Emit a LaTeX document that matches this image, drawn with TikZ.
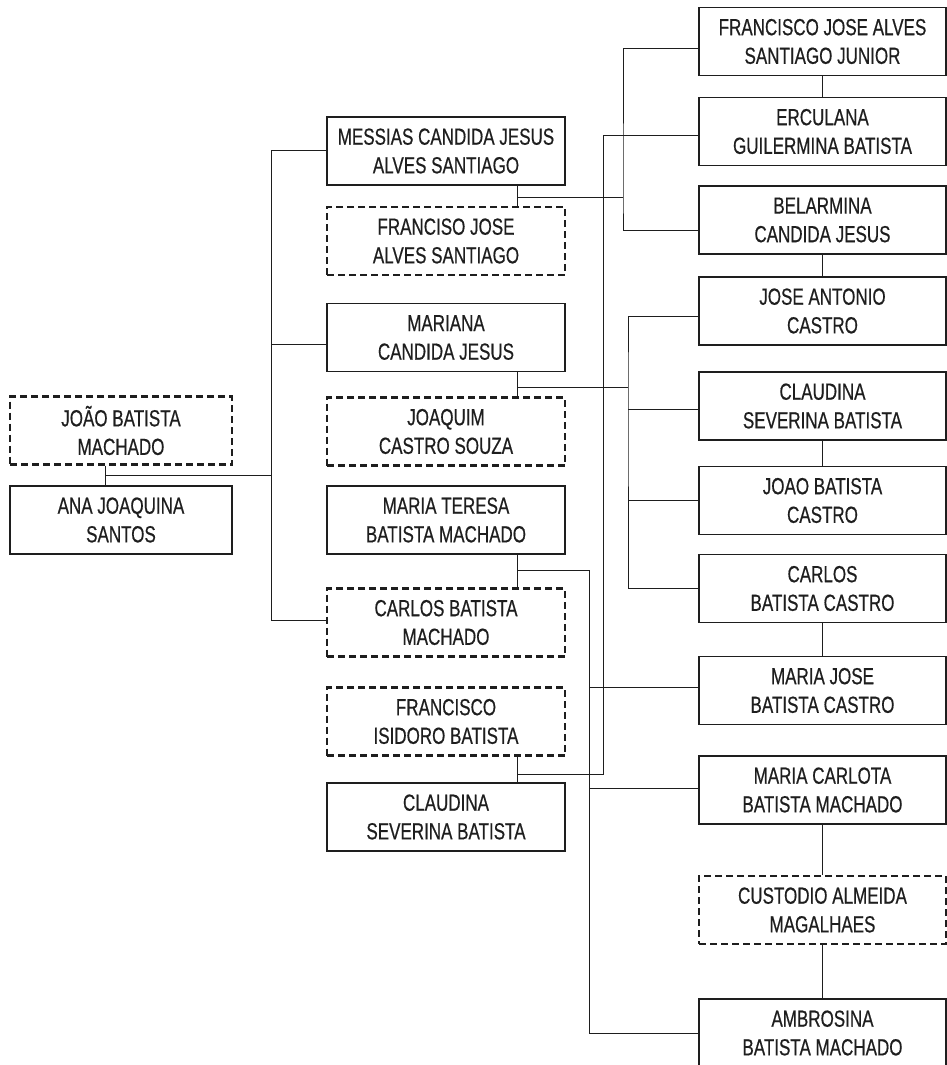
\documentclass[tikz,border=0pt]{standalone}
\usepackage{fontspec}
\setmainfont{Liberation Sans}[FakeStretch=0.73,FakeBold=0.5]
\usetikzlibrary{calc}
\definecolor{ink}{HTML}{1E1E1E}
\begin{document}
\begin{tikzpicture}[x=1pt,y=-1pt,
  person/.style={draw=ink,line width=1.3pt,align=center,inner sep=0pt,
    minimum height=68pt,text=ink,font=\fontsize{23.3}{28.6}\selectfont},
  spouse/.style={person,line width=2.2pt,dash pattern=on 7pt off 4pt},
  lw/.style={minimum width=222pt},
  mw/.style={minimum width=238pt},
  rw/.style={minimum width=247pt},
  link/.style={draw=ink,line width=1pt}]
\clip (0,0) rectangle (947,1065);
% left column
\node[spouse,lw] (joao) at (121,430.5) {JOÃO BATISTA\\MACHADO};
\node[person,lw] (ana) at (121,520) {ANA JOAQUINA\\SANTOS};
% middle column
\node[person,mw] (messias) at (446,151) {MESSIAS CANDIDA JESUS\\ALVES SANTIAGO};
\node[spouse,mw] (franj) at (446,241) {FRANCISO JOSE\\ALVES SANTIAGO};
\node[person,mw] (mariana) at (446,337.5) {MARIANA\\CANDIDA JESUS};
\node[spouse,mw] (joaquim) at (446,431.5) {JOAQUIM\\CASTRO SOUZA};
\node[person,mw] (mteresa) at (446,520) {MARIA TERESA\\BATISTA MACHADO};
\node[spouse,mw] (carlosbm) at (446,622.5) {CARLOS BATISTA\\MACHADO};
\node[spouse,mw] (fisidoro) at (446,721.5) {FRANCISCO\\ISIDORO BATISTA};
\node[person,mw] (claudm) at (446,817) {CLAUDINA\\SEVERINA BATISTA};
% right column
\node[person,rw] (fjr) at (822.5,41.5) {FRANCISCO JOSE ALVES\\SANTIAGO JUNIOR};
\node[person,rw] (erc) at (822.5,131.5) {ERCULANA\\GUILERMINA BATISTA};
\node[person,rw] (bel) at (822.5,220) {BELARMINA\\CANDIDA JESUS};
\node[person,rw] (jac) at (822.5,311) {JOSE ANTONIO\\CASTRO};
\node[person,rw] (csb) at (822.5,406) {CLAUDINA\\SEVERINA BATISTA};
\node[person,rw] (jbc) at (822.5,500.5) {JOAO BATISTA\\CASTRO};
\node[person,rw] (cbc) at (822.5,588.5) {CARLOS\\BATISTA CASTRO};
\node[person,rw] (mjbc) at (822.5,690.5) {MARIA JOSE\\BATISTA CASTRO};
\node[person,rw] (mcbm) at (822.5,790) {MARIA CARLOTA\\BATISTA MACHADO};
\node[spouse,rw] (cam) at (822.5,910) {CUSTODIO ALMEIDA\\MAGALHAES};
\node[person,rw] (amb) at (822.5,1033) {AMBROSINA\\BATISTA MACHADO};
% junction coordinates
\coordinate (u1) at (105,475);
\coordinate (sp) at (271,475);
\coordinate (m1) at (517,197);
\coordinate (b1) at (623,197);
\coordinate (m2) at (517,774);
\coordinate (b2) at (603,774);
\coordinate (m3) at (517,387);
\coordinate (b3) at (628,387);
\coordinate (m4) at (517,570);
\coordinate (b4) at (589,570);
% anchor points on box sides
\coordinate (messw) at ($(messias.west)+(0,-1)$);
\coordinate (marw) at ($(mariana.west)+(0,6.5)$);
\coordinate (carw) at ($(carlosbm.west)+(0,-2.5)$);
\coordinate (fjrw) at ($(fjr.west)+(0,7.5)$);
\coordinate (belw) at ($(bel.west)+(0,10)$);
\coordinate (ercw) at ($(erc.west)+(0,3.5)$);
\coordinate (jacw) at ($(jac.west)+(0,5)$);
\coordinate (csbw) at ($(csb.west)+(0,3)$);
\coordinate (jbcw) at (jbc.west);
\coordinate (cbcw) at (cbc.west);
\coordinate (mjw) at ($(mjbc.west)+(0,-3.5)$);
\coordinate (mcw) at ($(mcbm.west)+(0,-2)$);
\coordinate (ambw) at (amb.west);
% generation 1
\draw[link] (u1 |- joao.south) -- (u1 |- ana.north);
\draw[link] (u1) -- (sp);
\draw[link] (messw) -| (sp |- messw) -- (sp |- carw) -- (carw);
\draw[link] (marw) -- (sp |- marw);
% Messias couple
\draw[link] (m1 |- messias.south) -- (m1 |- franj.north);
\draw[link] (m1) -- (b1);
\draw[link] (fjrw) -| (b1) |- (belw);
\draw[link] (fjr.south) -- (erc.north);
\draw[link] (bel.south) -- (jac.north);
% Isidoro couple
\draw[link] (m2 |- fisidoro.south) -- (m2 |- claudm.north);
\draw[link] (m2) -- (b2) |- (ercw);
% Mariana couple
\draw[link] (m3 |- mariana.south) -- (m3 |- joaquim.north);
\draw[link] (m3) -- (b3);
\draw[link] (jacw) -| (b3) |- (cbcw);
\draw[link] (csbw) -- (b3 |- csbw);
\draw[link] (jbcw) -- (b3 |- jbcw);
\draw[link] (csb.south) -- (jbc.north);
\draw[link] (cbc.south) -- (mjbc.north);
% Maria Teresa couple
\draw[link] (m4 |- mteresa.south) -- (m4 |- carlosbm.north);
\draw[link] (m4) -- (b4) |- (ambw);
\draw[link] (mjw) -- (b4 |- mjw);
\draw[link] (mcw) -- (b4 |- mcw);
\draw[link] (mcbm.south) -- (cam.north);
\draw[link] (cam.south) -- (amb.north);
\end{tikzpicture}
\end{document}
